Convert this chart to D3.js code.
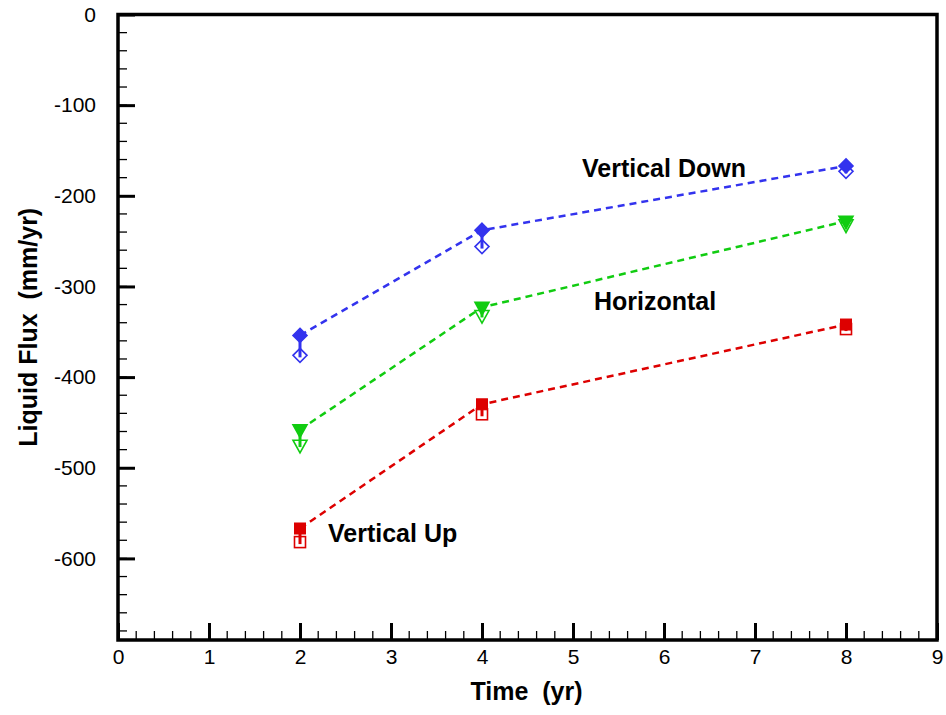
<!DOCTYPE html>
<html>
<head>
<meta charset="utf-8">
<script src="https://cdn.jsdelivr.net/npm/d3@7"></script>
<style>
  body { margin: 0; background: #fff; }
  text { font-family: Arial, "Liberation Sans", sans-serif; }
</style>
</head>
<body>
<div id="chart"></div>
<script>
// data
let times = [2, 4, 8];
let downFilled = [-354, -238, -167];
let downOpen = [-376, -256, -173];
let horizFilled = [-458, -323, -228];
let horizOpen = [-475, -332, -232];
let upFilled = [-567, -430, -342];
let upOpen = [-582, -441, -347];
let xTicks = [0, 1, 2, 3, 4, 5, 6, 7, 8, 9];
let yTicks = [0, -100, -200, -300, -400, -500, -600];

let series = [
    {name: "Vertical Down", color: "#3333ee", shape: "diamond", filled: downFilled, open: downOpen, lx: 582, ly: 177},
    {name: "Horizontal", color: "#11cc11", shape: "tri", filled: horizFilled, open: horizOpen, lx: 594, ly: 310},
    {name: "Vertical Up", color: "#dd0000", shape: "square", filled: upFilled, open: upOpen, lx: 328, ly: 542}
];

let svg = d3.select("#chart").append("svg")
    .attr("width", 946)
    .attr("height", 715);

let pLeft = 118, pRight = 937, pTop = 14.5, pBottom = 640;

let x = d3.scaleLinear().domain([0, 9]).range([pLeft, pRight]);
let y = d3.scaleLinear().domain([-690, 0]).range([pBottom, pTop]);

// minor ticks
let xMinor = d3.range(0, 9.001, 0.2);
let yMinor = d3.range(-680, 0.001, 20);

svg.selectAll(".xminor").data(xMinor).enter().append("line")
    .attr("x1", d => x(d)).attr("x2", d => x(d))
    .attr("y1", pBottom).attr("y2", pBottom - 9)
    .attr("stroke", "black").attr("stroke-width", 1.3);
svg.selectAll(".yminor").data(yMinor).enter().append("line")
    .attr("x1", pLeft).attr("x2", pLeft + 9)
    .attr("y1", d => y(d)).attr("y2", d => y(d))
    .attr("stroke", "black").attr("stroke-width", 1.3);

// axes (major ticks inward)
let xAxis = d3.axisBottom(x).tickValues(xTicks).tickSize(-17).tickPadding(20).tickFormat(d => String(d));
let yAxis = d3.axisLeft(y).tickValues(yTicks).tickSize(-17).tickPadding(22).tickFormat(d => String(d));

let gx = svg.append("g").attr("transform", `translate(0,${pBottom})`).call(xAxis);
let gy = svg.append("g").attr("transform", `translate(${pLeft},0)`).call(yAxis);
[gx, gy].forEach(g => {
    g.select(".domain").remove();
    g.selectAll(".tick line").attr("stroke-width", 3);
    g.selectAll(".tick text").attr("font-size", 21).attr("fill", "black")
        .style("font-family", "Arial, 'Liberation Sans', sans-serif");
});
gx.selectAll(".tick text").attr("dy", "0.2em");

// frame
svg.append("rect")
    .attr("x", pLeft).attr("y", pTop)
    .attr("width", pRight - pLeft).attr("height", pBottom - pTop)
    .attr("fill", "none").attr("stroke", "black").attr("stroke-width", 3.5);

let line = d3.line().x(d => x(d.t)).y(d => y(d.v));

function marker(g, cx, cy, shape, color, fill) {
    let s;
    if (shape === "diamond") {
        s = 7;
        g.append("path").attr("d", `M${cx},${cy - s}L${cx + s},${cy}L${cx},${cy + s}L${cx - s},${cy}Z`)
            .attr("fill", fill ? color : "white").attr("stroke", color).attr("stroke-width", 1.6);
    } else if (shape === "tri") {
        s = 7;
        g.append("path").attr("d", `M${cx - s},${cy - s * 0.7}L${cx + s},${cy - s * 0.7}L${cx},${cy + s * 1.1}Z`)
            .attr("fill", fill ? color : "white").attr("stroke", color).attr("stroke-width", 1.6);
    } else {
        s = 5.5;
        g.append("rect").attr("x", cx - s).attr("y", cy - s).attr("width", 2 * s).attr("height", 2 * s)
            .attr("fill", fill ? color : "white").attr("stroke", color).attr("stroke-width", fill ? 1 : 1.6);
    }
}

series.forEach(sr => {
    let pts = times.map((t, i) => ({t: t, v: sr.filled[i], o: sr.open[i]}));
    let g = svg.append("g");
    // open markers
    pts.forEach(p => marker(g, x(p.t), y(p.o), sr.shape, sr.color, false));
    // connector from filled to open
    g.selectAll(".bar").data(pts).enter().append("line")
        .attr("x1", d => x(d.t)).attr("x2", d => x(d.t))
        .attr("y1", d => y(d.v)).attr("y2", d => y(d.o) + 2)
        .attr("stroke", sr.color).attr("stroke-width", 3);
    g.append("path").datum(pts)
        .attr("d", line)
        .attr("fill", "none")
        .attr("stroke", sr.color)
        .attr("stroke-width", 2.5)
        .attr("stroke-dasharray", "7,5");
    pts.forEach(p => marker(g, x(p.t), y(p.v), sr.shape, sr.color, true));

    svg.append("text")
        .attr("x", sr.lx).attr("y", sr.ly)
        .attr("font-size", 25).attr("font-weight", "bold")
        .text(sr.name);
});

// axis titles
svg.append("text")
    .attr("x", (pLeft + pRight) / 2 - 1).attr("y", 700)
    .attr("text-anchor", "middle")
    .attr("font-size", 25).attr("font-weight", "bold")
    .attr("xml:space", "preserve")
    .text("Time  (yr)");
svg.append("text")
    .attr("transform", `translate(37,${(pTop + pBottom) / 2}) rotate(-90)`)
    .attr("text-anchor", "middle")
    .attr("font-size", 25).attr("font-weight", "bold")
    .attr("xml:space", "preserve")
    .text("Liquid Flux  (mm/yr)");
</script>
</body>
</html>
